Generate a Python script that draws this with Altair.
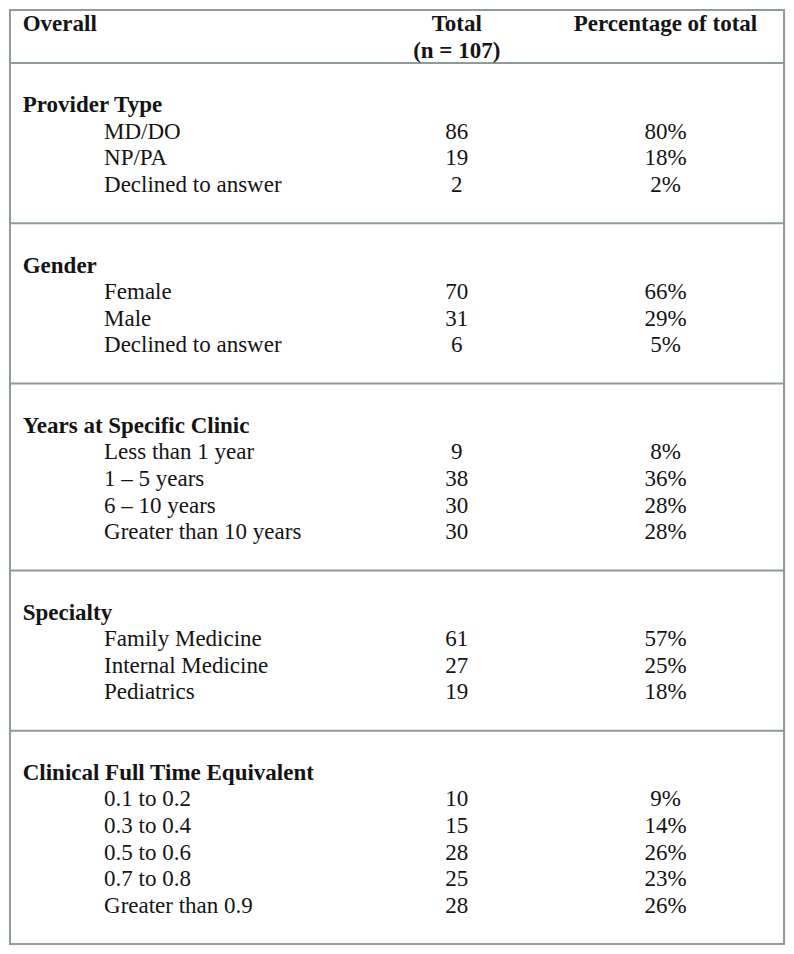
import altair as alt
import pandas as pd

# ---------------- data ----------------
header_cols = ["Overall", "Total", "Percentage of total"]
header_sub = "(n = 107)"

sections = ["Provider Type", "Gender", "Years at Specific Clinic", "Specialty",
            "Clinical Full Time Equivalent"]

provider_items = ["MD/DO", "NP/PA", "Declined to answer"]
provider_totals = [86, 19, 2]
provider_pcts = [80, 18, 2]

gender_items = ["Female", "Male", "Declined to answer"]
gender_totals = [70, 31, 6]
gender_pcts = [66, 29, 5]

years_items = ["Less than 1 year", "1 – 5 years", "6 – 10 years", "Greater than 10 years"]
years_totals = [9, 38, 30, 30]
years_pcts = [8, 36, 28, 28]

specialty_items = ["Family Medicine", "Internal Medicine", "Pediatrics"]
specialty_totals = [61, 27, 19]
specialty_pcts = [57, 25, 18]

fte_items = ["0.1 to 0.2", "0.3 to 0.4", "0.5 to 0.6", "0.7 to 0.8", "Greater than 0.9"]
fte_totals = [10, 15, 28, 25, 28]
fte_pcts = [9, 14, 26, 23, 26]

groups = [
    (provider_items, provider_totals, provider_pcts),
    (gender_items, gender_totals, gender_pcts),
    (years_items, years_totals, years_pcts),
    (specialty_items, specialty_totals, specialty_pcts),
    (fte_items, fte_totals, fte_pcts),
]

# ---------------- layout (reference pixel space) ----------------
W_REF, H_REF = 794, 954
TOP_Y1, TOP_Y2 = 16, 44
HEADER_RULE = 56
GAP_HEAD = 43
ROW = 27
GAP_END = 39
X_LEFT, X_RIGHT = 2, 792
Y_TOP, Y_BOTTOM = 2, 952
X_SECTION, X_ITEM = 15, 98
X_TOTAL, X_PCT = 458, 671

bold_left, bold_center, norm_left, norm_center, rules = [], [], [], [], []

bold_left.append({"x": X_SECTION, "y": TOP_Y1, "t": header_cols[0]})
bold_center.append({"x": X_TOTAL, "y": TOP_Y1, "t": header_cols[1]})
bold_center.append({"x": X_TOTAL, "y": TOP_Y2, "t": header_sub})
bold_center.append({"x": X_PCT, "y": TOP_Y1, "t": header_cols[2]})

line_y = HEADER_RULE
for name, (items, totals, pcts) in zip(sections, groups):
    rules.append({"x": X_LEFT, "x2": X_RIGHT, "y": line_y})
    y = line_y + GAP_HEAD
    bold_left.append({"x": X_SECTION, "y": y, "t": name})
    for it, tot, pc in zip(items, totals, pcts):
        y += ROW
        norm_left.append({"x": X_ITEM, "y": y, "t": it})
        norm_center.append({"x": X_TOTAL, "y": y, "t": str(tot)})
        norm_center.append({"x": X_PCT, "y": y, "t": f"{pc}%"})
    line_y = y + GAP_END

W, H = 778, 938

FONT = "Liberation Serif"
FS = 23
COLOR = "#141414"
LINE = "#8d9b99"


def xenc():
    return alt.X("x:Q", scale=alt.Scale(domain=[0, W_REF], nice=False, zero=False), axis=None)


def yenc():
    return alt.Y("y:Q", scale=alt.Scale(domain=[0, H_REF], nice=False, zero=False, reverse=True), axis=None)


def text_layer(rows, align, weight):
    return alt.Chart(pd.DataFrame(rows)).mark_text(
        align=align, baseline="middle", font=FONT, fontSize=FS,
        fontWeight=weight, color=COLOR
    ).encode(x=xenc(), y=yenc(), text="t:N")


rule_layer = alt.Chart(pd.DataFrame(rules)).mark_rule(
    color=LINE, strokeWidth=2
).encode(x=xenc(), x2="x2:Q", y=yenc())

border = alt.Chart(pd.DataFrame([{"x": X_LEFT, "x2": X_RIGHT, "y": Y_TOP, "y2": Y_BOTTOM}])).mark_rect(
    fillOpacity=0, stroke=LINE, strokeWidth=2
).encode(x=xenc(), x2="x2:Q", y=yenc(), y2="y2:Q")

chart = alt.layer(
    border,
    rule_layer,
    text_layer(bold_left, "left", "bold"),
    text_layer(bold_center, "center", "bold"),
    text_layer(norm_left, "left", "normal"),
    text_layer(norm_center, "center", "normal"),
).properties(
    width=W, height=H, padding=0, autosize="none", background="white"
).configure_view(stroke=None)

chart.save("out.html", embed_options={"renderer": "svg", "actions": False})
